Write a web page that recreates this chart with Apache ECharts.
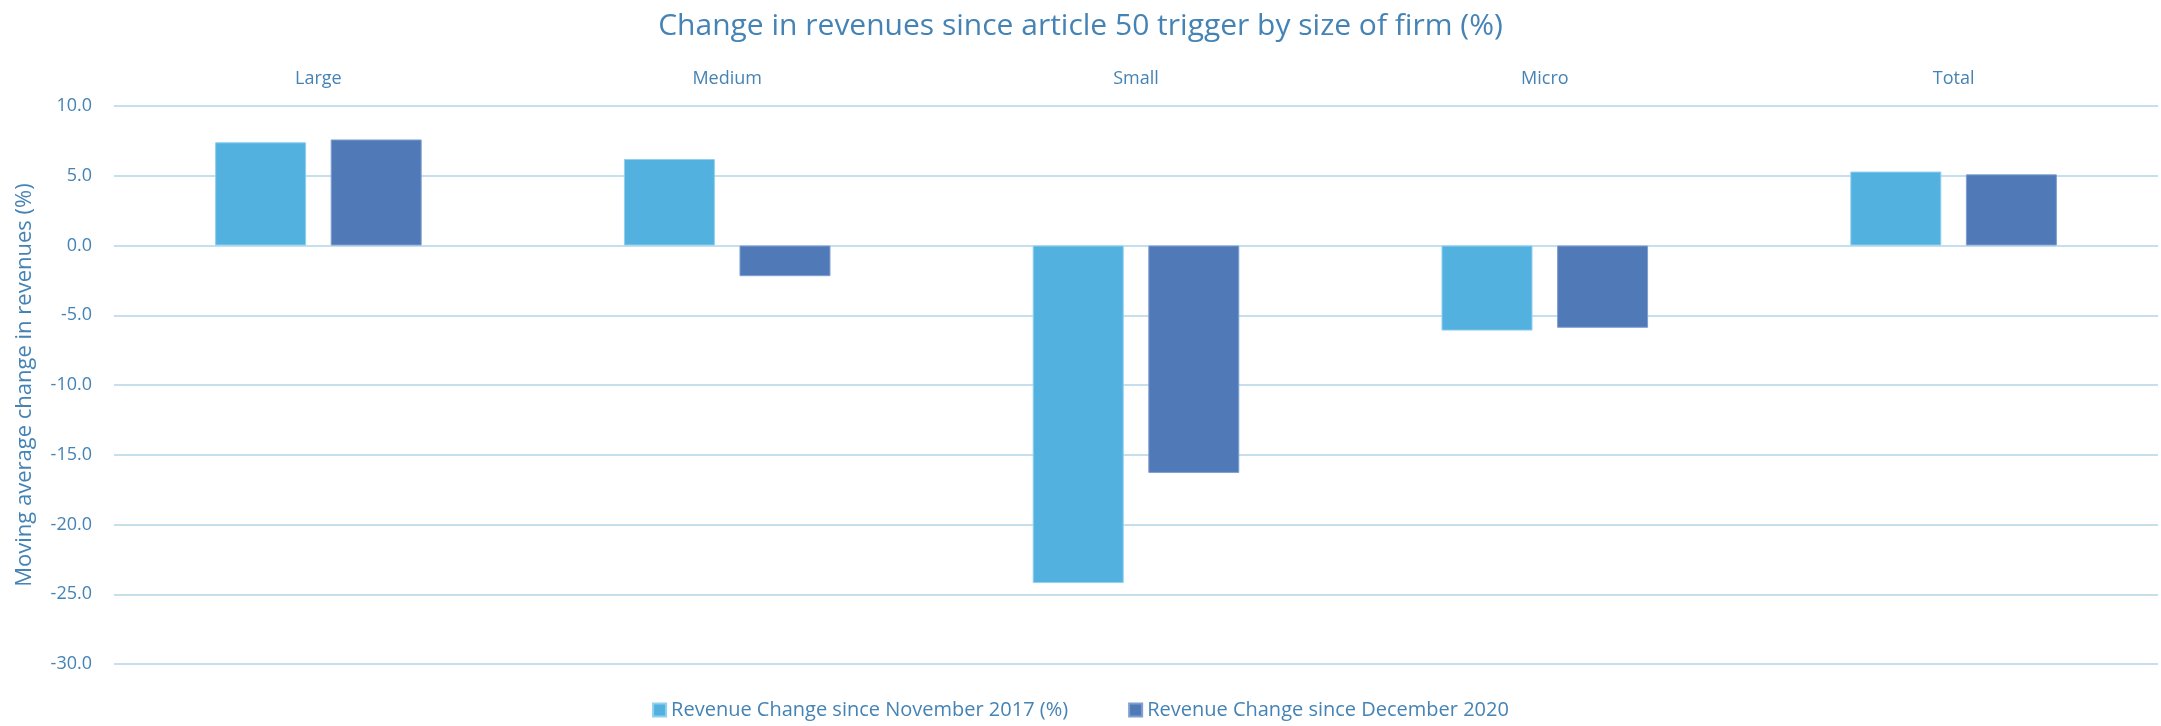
<!DOCTYPE html>
<html>
<head>
<meta charset="utf-8">
<title>Change in revenues since article 50 trigger</title>
<script src="https://cdn.jsdelivr.net/npm/echarts@6/dist/echarts.min.js"></script>
<style>
    html, body { margin: 0; padding: 0; background: #fff; }
    #chart { width: 2161px; height: 726px; }
</style>
</head>
<body>
<div id="chart"></div>
<script>
const categories = ['Large', 'Medium', 'Small', 'Micro', 'Total']
const sinceNov2017 = [7.4, 6.2, -24.2, -6.1, 5.3]
const sinceDec2020 = [7.6, -2.2, -16.3, -5.9, 5.1]
const seriesNames = ['Revenue Change since November 2017 (%)', 'Revenue Change since December 2020']

const textColor = '#4583b5'
const fontFamily = "'Open Sans', sans-serif"

const myChart = echarts.init(document.getElementById('chart'))

const option = {
    textStyle: { fontFamily: fontFamily },
    title: {
        text: 'Change in revenues since article 50 trigger by size of firm (%)',
        left: 'center',
        top: 6,
        textStyle: { color: textColor, fontSize: 30, fontWeight: 'normal', fontFamily: fontFamily }
    },
    legend: {
        data: seriesNames,
        bottom: 1,
        left: 'center',
        itemWidth: 13,
        itemHeight: 13,
        itemGap: 60,
        icon: 'rect',
        textStyle: { color: textColor, fontSize: 20, fontFamily: fontFamily }
    },
    grid: {
        top: 106,
        left: 114,
        right: 3,
        bottom: 62
    },
    xAxis: {
        type: 'category',
        position: 'top',
        data: categories,
        axisLine: { show: false },
        axisTick: { show: false },
        axisLabel: { color: textColor, fontSize: 18, margin: 18, fontFamily: fontFamily }
    },
    yAxis: {
        type: 'value',
        min: -30,
        max: 10,
        interval: 5,
        name: 'Moving average change in revenues (%)',
        nameLocation: 'middle',
        nameGap: 78,
        nameTextStyle: { color: textColor, fontSize: 22, fontFamily: fontFamily },
        axisLine: { show: false },
        axisTick: { show: false },
        axisLabel: {
            color: textColor,
            fontSize: 18,
            margin: 22,
            fontFamily: fontFamily,
            formatter: v => v.toFixed(1)
        },
        splitLine: { lineStyle: { color: '#c5dfec', width: 2 } }
    },
    series: [
        {
            name: seriesNames[0],
            type: 'bar',
            data: sinceNov2017,
            barWidth: 91,
            barGap: '27%',
            itemStyle: { color: '#53b1e0', borderColor: '#8fd0f0', borderWidth: 1 }
        },
        {
            name: seriesNames[1],
            type: 'bar',
            data: sinceDec2020,
            barWidth: 91,
            barGap: '27%',
            itemStyle: { color: '#5079b7', borderColor: '#7f9fd0', borderWidth: 1 }
        }
    ]
}

myChart.setOption(option)
window.addEventListener('resize', () => myChart.resize())
</script>
</body>
</html>
